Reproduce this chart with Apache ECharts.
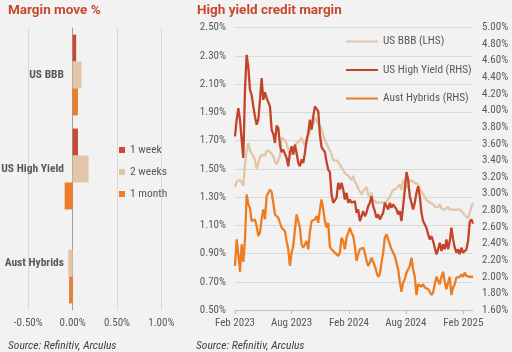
<!DOCTYPE html>
<html>
<head>
<meta charset="utf-8">
<script src="https://cdn.jsdelivr.net/npm/echarts@6/dist/echarts.min.js"></script>
<style>
  html, body { margin: 0; padding: 0; background: #f2f2f2; }
  #chart { width: 512px; height: 352px; }
</style>
</head>
<body>
<div id="chart"></div>
<script>
// left panel: margin moves (%)
const moveCategories = ['US BBB', 'US High Yield', 'Aust Hybrids'];
const move1Week = [0.04, 0.06, 0];
const move2Weeks = [0.10, 0.18, -0.05];
const move1Month = [0.06, -0.09, -0.04];

// right panel: margins, sampled every ~5.33 days from Feb 2023
const seriesStart = '2023-02-01';
const seriesEnd = '2025-03-04';
const stepDays = 5.33;
const usBBB = [
  1.37, 1.41, 1.40, 1.42, 1.40, 1.38, 1.53, 1.63, 1.68, 1.63,
  1.61, 1.59, 1.56, 1.50, 1.54, 1.58, 1.60, 1.61, 1.59, 1.63,
  1.63, 1.62, 1.61, 1.59, 1.55, 1.53, 1.52, 1.59, 1.72, 1.73,
  1.70, 1.68, 1.63, 1.60, 1.59, 1.61, 1.66, 1.68, 1.67, 1.70,
  1.72, 1.69, 1.66, 1.68, 1.73, 1.76, 1.80, 1.82, 1.86, 1.85,
  1.82, 1.80, 1.78, 1.74, 1.70, 1.68, 1.65, 1.63, 1.60, 1.56,
  1.55, 1.56, 1.55, 1.53, 1.52, 1.49, 1.47, 1.46, 1.45,
  1.46, 1.42, 1.45, 1.41, 1.39, 1.36, 1.35, 1.32, 1.34, 1.35,
  1.37, 1.32, 1.30, 1.33, 1.28, 1.27, 1.26, 1.27, 1.26, 1.27,
  1.26, 1.25, 1.27, 1.26, 1.30, 1.33, 1.35, 1.34, 1.36, 1.35,
  1.39, 1.35, 1.42, 1.40, 1.36, 1.40, 1.41, 1.42, 1.41, 1.40,
  1.41, 1.39, 1.36, 1.34, 1.33, 1.30, 1.28, 1.27, 1.26, 1.27,
  1.25, 1.23, 1.22, 1.23, 1.25, 1.22, 1.21, 1.21, 1.22, 1.23,
  1.21, 1.22, 1.21, 1.20, 1.21, 1.20, 1.21, 1.20, 1.19, 1.17,
  1.16, 1.15, 1.19, 1.23, 1.26
];
const usHighYield = [
  3.69, 3.89, 4.03, 3.89, 3.65, 3.43, 4.25, 4.67, 4.53, 4.25,
  4.19, 4.05, 3.93, 3.83, 3.89, 4.13, 4.39, 4.13, 4.22, 4.15,
  4.13, 4.05, 3.77, 3.72, 3.61, 3.82, 3.79, 3.59, 3.50, 3.53,
  3.53, 3.43, 3.33, 3.49, 3.57, 3.47, 3.59, 3.49, 3.37, 3.33,
  3.41, 3.37, 3.49, 3.65, 3.73, 3.89, 3.77, 3.93, 4.05, 4.03,
  3.99, 3.71, 3.56, 3.55, 3.50, 3.38, 3.29, 3.26, 2.99, 2.89,
  2.87, 2.95, 3.13, 3.05, 3.13, 3.05, 2.93, 3.01, 2.89,
  2.93, 2.89, 2.87, 2.91, 2.77, 2.81, 2.67, 2.69, 2.79, 2.73,
  2.77, 2.85, 2.89, 2.97, 2.85, 2.79, 2.71, 2.75, 2.69, 2.73,
  2.77, 2.89, 2.85, 2.81, 2.89, 2.83, 2.87, 2.85, 2.81, 2.75,
  2.79, 2.67, 2.85, 3.05, 3.26, 3.17, 2.97, 2.89, 2.81, 2.89,
  3.01, 3.09, 2.97, 2.77, 2.67, 2.63, 2.59, 2.51, 2.45, 2.49,
  2.43, 2.35, 2.27, 2.33, 2.41, 2.31, 2.39, 2.33, 2.45, 2.33,
  2.43, 2.59, 2.45, 2.35, 2.29, 2.33, 2.27, 2.35, 2.29, 2.31,
  2.33, 2.43, 2.66, 2.69, 2.64
];
const austHybrids = [
  2.13, 2.45, 2.27, 2.06, 2.39, 2.18, 2.45, 2.99, 2.87, 2.83,
  2.67, 2.67, 2.69, 2.61, 2.49, 2.53, 2.69, 2.81, 2.69, 2.97,
  3.01, 3.05, 3.02, 2.89, 2.75, 2.73, 2.71, 2.65, 2.59, 2.57,
  2.55, 2.43, 2.33, 2.13, 2.29, 2.37, 2.57, 2.75, 2.73, 2.59,
  2.39, 2.35, 2.37, 2.43, 2.33, 2.54, 2.67, 2.65, 2.69, 2.73,
  2.65, 2.81, 2.93, 2.81, 2.67, 2.59, 2.65, 2.36, 2.33, 2.31,
  2.29, 2.27, 2.25, 2.29, 2.47, 2.43, 2.33, 2.47, 2.49,
  2.59, 2.53, 2.49, 2.37, 2.19, 2.27, 2.33, 2.31, 2.35, 2.29,
  2.19, 2.13, 2.17, 2.23, 2.21, 2.13, 2.06, 2.00, 2.03, 2.17,
  2.29, 2.47, 2.51, 2.45, 2.43, 2.33, 2.31, 2.25, 2.17, 2.09,
  1.94, 1.82, 1.93, 1.97, 2.05, 2.09, 2.13, 2.23, 2.09, 2.00,
  1.78, 1.91, 1.93, 1.88, 1.91, 1.87, 1.88, 1.85, 1.82, 1.78,
  1.81, 1.91, 2.00, 2.00, 1.91, 2.00, 2.06, 1.94, 1.85, 1.93,
  2.00, 1.78, 1.87, 1.91, 1.99, 2.00, 2.00, 2.03, 2.00, 2.05,
  2.01, 2.01, 2.00, 2.00, 2.00
];

// axis ticks
const leftTicks = [0.5, 0.7, 0.9, 1.1, 1.3, 1.5, 1.7, 1.9, 2.1, 2.3, 2.5];
const dateTicks = ['2023-02-01', '2023-08-01', '2024-02-01', '2024-08-01', '2025-02-01'];
const monthNames = ['Jan', 'Feb', 'Mar', 'Apr', 'May', 'Jun', 'Jul', 'Aug', 'Sep', 'Oct', 'Nov', 'Dec'];

// Roboto is variable here, 'semi-condensed' goes into the canvas font string
const FONT = 'Roboto';
const NARROW = 'semi-condensed';
const LABEL_COLOR = '#595959';
const GRID_COLOR = '#d9d9d9';

const colors = {
	week: '#c84a31',
	weeks2: '#e3c6a8',
	month: '#ee7d2b',
	bbb: '#e2c6a7',
	hy: '#c4432b',
	hybrids: '#ee7d22'
};

const toMs = d => Date.parse(d + 'T00:00:00Z');
const startMs = toMs(seriesStart);
const toPairs = arr => arr.map((v, i) => [startMs + i * stepDays * 86400000, v]);
const pct = v => v.toFixed(2) + '%';

const chart = echarts.init(document.getElementById('chart'));

const titleStyle = { fontFamily: FONT, fontSize: 13.5, fontWeight: 'bold', color: '#c9472f' };
const sourceStyle = { fontFamily: FONT, fontSize: 11.5, fontStyle: 'italic', fontWeight: NARROW, color: '#404040' };
const labelStyle = size => ({ fontFamily: FONT, fontSize: size, fontWeight: NARROW, color: LABEL_COLOR });

const option = {
	backgroundColor: '#f2f2f2',
	animation: false,
	textStyle: { fontFamily: FONT },
	title: [
		{ text: 'Margin move %', left: 8, top: 4, padding: 0, textStyle: titleStyle },
		{ text: 'High yield credit margin', left: 197, top: 4, padding: 0, textStyle: titleStyle },
		{ text: 'Source: Refinitiv, Arculus', left: 8, top: 340, padding: 0, textStyle: sourceStyle },
		{ text: 'Source: Refinitiv, Arculus', left: 196, top: 340, padding: 0, textStyle: sourceStyle }
	],
	legend: [
		{ data: ['1 week'], left: 119, top: 144, padding: 0, icon: 'rect', itemWidth: 6, itemHeight: 6, textStyle: labelStyle(11.5) },
		{ data: ['2 weeks'], left: 119, top: 166, padding: 0, icon: 'rect', itemWidth: 6, itemHeight: 6, textStyle: labelStyle(11.5) },
		{ data: ['1 month'], left: 119, top: 188, padding: 0, icon: 'rect', itemWidth: 6, itemHeight: 6, textStyle: labelStyle(11.5) },
		{ data: ['US BBB (LHS)'], left: 346, top: 36, padding: 0, icon: 'rect', itemWidth: 32, itemHeight: 2, textStyle: labelStyle(11.3) },
		{ data: ['US High Yield (RHS)'], left: 346, top: 64.5, padding: 0, icon: 'rect', itemWidth: 32, itemHeight: 2, textStyle: labelStyle(11.3) },
		{ data: ['Aust Hybrids (RHS)'], left: 346, top: 93, padding: 0, icon: 'rect', itemWidth: 32, itemHeight: 2, textStyle: labelStyle(11.3) }
	],
	grid: [
		{ left: 28.3, right: 350.7, top: 28, bottom: 42, outerBoundsMode: 'none' },
		{ left: 235, right: 39, top: 27.5, bottom: 42, outerBoundsMode: 'none' }
	],
	xAxis: [
		{
			type: 'value',
			gridIndex: 0,
			min: -0.5,
			max: 1.0,
			interval: 0.5,
			axisLine: { show: false },
			axisTick: { show: false },
			axisLabel: Object.assign({ formatter: pct, margin: 8 }, labelStyle(11)),
			splitLine: { lineStyle: { color: GRID_COLOR } }
		},
		{
			// dates as millisecond values, ticks only at Feb / Aug
			type: 'value',
			gridIndex: 1,
			min: startMs,
			max: toMs(seriesEnd),
			axisLine: { onZero: false, lineStyle: { color: '#bfbfbf' } },
			axisTick: { show: true, length: 4, customValues: dateTicks.map(toMs), lineStyle: { color: '#bfbfbf' } },
			axisLabel: Object.assign({
				customValues: dateTicks.map(toMs),
				formatter: v => {
					const d = new Date(v);
					return monthNames[d.getUTCMonth()] + ' ' + d.getUTCFullYear();
				},
				margin: 8
			}, labelStyle(11)),
			splitLine: { show: false }
		}
	],
	yAxis: [
		{
			type: 'category',
			gridIndex: 0,
			inverse: true,
			data: moveCategories,
			axisLine: { onZero: true, lineStyle: { color: '#a0a0a0' } },
			axisTick: { show: false },
			// labels stay at the grid edge, so pull them over to the zero line
			axisLabel: { fontFamily: FONT, fontSize: 11.5, fontWeight: 'bold ' + NARROW, color: LABEL_COLOR, margin: -35.7 }
		},
		{
			type: 'value',
			gridIndex: 1,
			position: 'left',
			min: 0.5,
			max: 2.5,
			axisLine: { show: false },
			axisTick: { show: false, customValues: leftTicks },
			axisLabel: Object.assign({ customValues: leftTicks, formatter: pct, margin: 9 }, labelStyle(11)),
			splitLine: { lineStyle: { color: GRID_COLOR } }
		},
		{
			type: 'value',
			gridIndex: 1,
			position: 'right',
			min: 1.6,
			max: 5.0,
			interval: 0.2,
			axisLine: { show: false },
			axisTick: { show: false },
			axisLabel: Object.assign({ formatter: pct, margin: 9 }, labelStyle(11)),
			splitLine: { show: false }
		}
	],
	series: [
		{ name: '1 week', type: 'bar', xAxisIndex: 0, yAxisIndex: 0, data: move1Week, barGap: '0%', barCategoryGap: '14%', itemStyle: { color: colors.week } },
		{ name: '2 weeks', type: 'bar', xAxisIndex: 0, yAxisIndex: 0, data: move2Weeks, barGap: '0%', barCategoryGap: '14%', itemStyle: { color: colors.weeks2 } },
		{ name: '1 month', type: 'bar', xAxisIndex: 0, yAxisIndex: 0, data: move1Month, barGap: '0%', barCategoryGap: '14%', itemStyle: { color: colors.month } },
		{ name: 'US BBB (LHS)', type: 'line', xAxisIndex: 1, yAxisIndex: 1, data: toPairs(usBBB), showSymbol: false, lineStyle: { width: 2.3, color: colors.bbb }, itemStyle: { color: colors.bbb } },
		{ name: 'US High Yield (RHS)', type: 'line', xAxisIndex: 1, yAxisIndex: 2, data: toPairs(usHighYield), showSymbol: false, lineStyle: { width: 2.3, color: colors.hy }, itemStyle: { color: colors.hy } },
		{ name: 'Aust Hybrids (RHS)', type: 'line', xAxisIndex: 1, yAxisIndex: 2, data: toPairs(austHybrids), showSymbol: false, lineStyle: { width: 2.3, color: colors.hybrids }, itemStyle: { color: colors.hybrids } }
	]
};

chart.setOption(option);
</script>
</body>
</html>
